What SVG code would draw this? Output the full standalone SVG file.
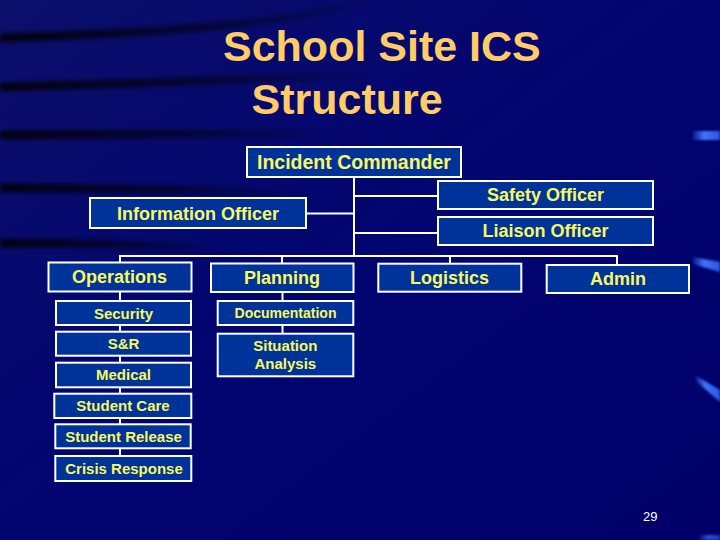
<svg xmlns="http://www.w3.org/2000/svg" width="720" height="540" viewBox="0 0 720 540">
  <defs>
    <linearGradient id="bg" x1="0" y1="0" x2="1" y2="1">
      <stop offset="0" stop-color="#0b0f6a"/>
      <stop offset="0.5" stop-color="#020470"/>
      <stop offset="1" stop-color="#000068"/>
    </linearGradient>
    <linearGradient id="streak" x1="0" y1="0" x2="1" y2="0">
      <stop offset="0" stop-color="#000000" stop-opacity="0.95"/>
      <stop offset="0.55" stop-color="#000000" stop-opacity="0.55"/>
      <stop offset="1" stop-color="#000000" stop-opacity="0"/>
    </linearGradient>
    <linearGradient id="hl" x1="0" y1="0" x2="1" y2="0">
      <stop offset="0" stop-color="#3a6cff" stop-opacity="0.2"/>
      <stop offset="0.4" stop-color="#3f73ff"/>
      <stop offset="1" stop-color="#2b55e0"/>
    </linearGradient>
    <filter id="blur" x="-10%" y="-300%" width="120%" height="700%">
      <feGaussianBlur stdDeviation="2.4"/>
    </filter>
    <filter id="blur2" x="-20%" y="-50%" width="140%" height="200%">
      <feGaussianBlur stdDeviation="0.8"/>
    </filter>
  </defs>
  <style>
    .box { fill: #003399; stroke: #ffffff; stroke-width: 2; }
    .ln { stroke: #ffffff; stroke-width: 2; fill: none; }
    .t { font-family: "Liberation Sans", Arial, sans-serif; font-weight: bold; fill: #f8f860; text-anchor: middle; }
    .big { font-size: 19.5px; }
    .mid { font-size: 18px; }
    .sm { font-size: 15px; }
    .title { font-family: "Liberation Sans", Arial, sans-serif; font-weight: bold; font-size: 43px; fill: #ffcc66; }
    .num { font-family: "Liberation Sans", Arial, sans-serif; font-size: 13px; fill: #ffffff; }
  </style>

  <!-- background -->
  <rect x="0" y="0" width="720" height="540" fill="url(#bg)"/>
  <g filter="url(#blur)" fill="none" stroke="url(#streak)">
    <path d="M0,38 C120,34 230,28 300,16 C330,10 360,3 380,0" stroke-width="8"/>
    <path d="M0,87 C120,84 240,80 380,74" stroke-width="8"/>
    <path d="M0,135 C120,134 240,133 340,134" stroke-width="8"/>
    <path d="M0,188 C100,188 200,190 300,192" stroke-width="8"/>
    <path d="M0,243 C80,243 150,245 220,248" stroke-width="8"/>
  </g>
  <g filter="url(#blur2)">
    <path d="M693,131 L720,131 L720,140 L693,140 Z" fill="url(#hl)"/>
    <path d="M693,257 L720,262 L720,272 L693,264 Z" fill="url(#hl)"/>
    <path d="M695,375 L720,390 L720,402 L697,382 Z" fill="url(#hl)"/>
    <path d="M700,535 L720,535 L720,540 L700,540 Z" fill="url(#hl)" opacity="0.7"/>
  </g>

  <!-- title -->
  <text class="title" x="223" y="61">School Site ICS</text>
  <text class="title" x="251.5" y="113.5">Structure</text>

  <!-- connectors -->
  <g id="connectors">
    <line class="ln" x1="354" y1="178" x2="354" y2="256"/>
    <line class="ln" x1="354" y1="196" x2="438" y2="196"/>
    <line class="ln" x1="306" y1="213.5" x2="354" y2="213.5"/>
    <line class="ln" x1="354" y1="233" x2="438" y2="233"/>
    <line class="ln" x1="119" y1="256" x2="618" y2="256"/>
    <line class="ln" x1="120" y1="256" x2="120" y2="263"/>
    <line class="ln" x1="282" y1="256" x2="282" y2="264"/>
    <line class="ln" x1="450" y1="256" x2="450" y2="264"/>
    <line class="ln" x1="617" y1="256" x2="617" y2="265"/>
    <line class="ln" x1="120" y1="292" x2="120" y2="456"/>
    <line class="ln" x1="282.5" y1="292" x2="282.5" y2="334"/>
  </g>

  <!-- nodes -->
  <g id="incident-commander">
    <rect class="box" x="247" y="147" width="214" height="30"/>
    <text class="t big" x="354" y="169">Incident Commander</text>
  </g>
  <g id="safety-officer">
    <rect class="box" x="438" y="181" width="215" height="28"/>
    <text class="t mid" x="545.5" y="201">Safety Officer</text>
  </g>
  <g id="liaison-officer">
    <rect class="box" x="438" y="217" width="215" height="28"/>
    <text class="t mid" x="545.5" y="237">Liaison Officer</text>
  </g>
  <g id="information-officer">
    <rect class="box" x="90" y="198" width="216" height="30"/>
    <text class="t mid" x="198" y="219.5">Information Officer</text>
  </g>
  <g id="operations">
    <rect class="box" x="48.5" y="262.5" width="143" height="29"/>
    <text class="t mid" x="119.5" y="282.5">Operations</text>
  </g>
  <g id="planning">
    <rect class="box" x="211" y="263.5" width="142.5" height="28.5"/>
    <text class="t mid" x="282" y="284">Planning</text>
  </g>
  <g id="logistics">
    <rect class="box" x="378.3" y="263.7" width="143" height="28"/>
    <text class="t mid" x="449.5" y="284">Logistics</text>
  </g>
  <g id="admin">
    <rect class="box" x="546.7" y="265" width="142.3" height="28"/>
    <text class="t mid" x="618" y="285">Admin</text>
  </g>
  <g id="security">
    <rect class="box" x="56" y="301" width="135" height="24"/>
    <text class="t sm" x="123.5" y="318.5">Security</text>
  </g>
  <g id="search-rescue">
    <rect class="box" x="56" y="331.7" width="135" height="24"/>
    <text class="t sm" x="123.5" y="349.3">S&amp;R</text>
  </g>
  <g id="medical">
    <rect class="box" x="56" y="362.7" width="135" height="24.6"/>
    <text class="t sm" x="123.5" y="380">Medical</text>
  </g>
  <g id="student-care">
    <rect class="box" x="54.3" y="393.7" width="137" height="24.3"/>
    <text class="t sm" x="123" y="410.7">Student Care</text>
  </g>
  <g id="student-release">
    <rect class="box" x="55.3" y="424.3" width="135.4" height="24"/>
    <text class="t sm" x="123.5" y="441.7">Student Release</text>
  </g>
  <g id="crisis-response">
    <rect class="box" x="55.3" y="456" width="136" height="25"/>
    <text class="t sm" x="124" y="474">Crisis Response</text>
  </g>
  <g id="documentation">
    <rect class="box" x="217.7" y="301" width="135.6" height="24"/>
    <text class="t sm" x="285.5" y="318.3" style="font-size:14px">Documentation</text>
  </g>
  <g id="situation-analysis">
    <rect class="box" x="217.7" y="333.7" width="135.6" height="42.6"/>
    <text class="t sm" x="285.3" y="351">Situation</text>
    <text class="t sm" x="285.3" y="368.5">Analysis</text>
  </g>

  <text class="num" x="643" y="520.5">29</text>
</svg>
